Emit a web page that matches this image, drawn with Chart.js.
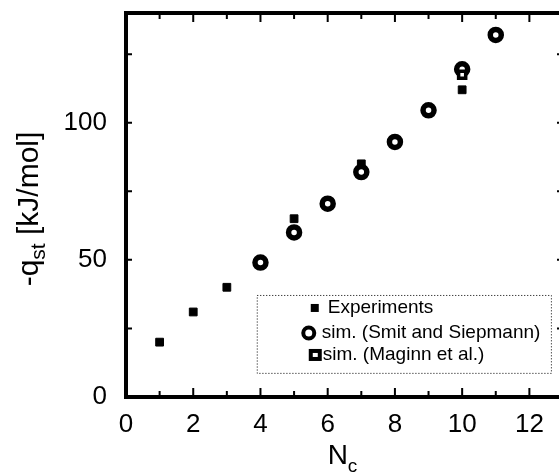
<!DOCTYPE html>
<html>
<head>
<meta charset="utf-8">
<script src="https://cdn.jsdelivr.net/npm/chart.js@4/dist/chart.umd.min.js"></script>
<style>
html, body { margin: 0; padding: 0; background: #fff; overflow: hidden; }
</style>
</head>
<body>
<canvas id="qst" width="575" height="473"></canvas>
<script>
// heat of adsorption vs carbon number
const expN = [1, 2, 3, 5, 7, 10]
const expQ = [20, 31, 40, 65, 85, 112]
const smitN = [4, 5, 6, 7, 8, 9, 10, 11]
const smitQ = [49, 60, 70.5, 82, 93, 104.5, 119.5, 132]
const maginnN = [10]
const maginnQ = [117.5]
const xLabels = [0, 2, 4, 6, 8, 10, 12]
const yLabels = [0, 50, 100]
const legendLabels = ['Experiments', 'sim. (Smit and Siepmann)', 'sim. (Maginn et al.)']

const FONT = '"Liberation Sans", Arial, Helvetica, sans-serif'

function pts(xs, ys) {
    return xs.map((v, i) => ({ x: v, y: ys[i] }))
}

// frame, inward ticks, axis titles and legend box
const frame = {
    id: 'frame',
    afterDraw(chart) {
        const ctx = chart.ctx
        const a = chart.chartArea
        const xs = chart.scales.x
        const ys = chart.scales.y
        ctx.save()
        ctx.strokeStyle = '#000'
        ctx.fillStyle = '#000'

        //box round the plot
        ctx.lineWidth = 4
        ctx.strokeRect(a.left, a.top, a.right - a.left, a.bottom - a.top)

        //ticks pointing inward
        ctx.lineWidth = 2
        xs.ticks.forEach(t => {
            if (t.value <= xs.min || t.value >= xs.max) return
            const px = xs.getPixelForValue(t.value)
            const len = t.value % 2 === 0 ? 9 : 6
            ctx.beginPath()
            ctx.moveTo(px, a.bottom)
            ctx.lineTo(px, a.bottom - len)
            ctx.moveTo(px, a.top)
            ctx.lineTo(px, a.top + len)
            ctx.stroke()
        })
        ys.ticks.forEach(t => {
            if (t.value <= ys.min || t.value >= ys.max) return
            const py = ys.getPixelForValue(t.value)
            ctx.beginPath()
            ctx.moveTo(a.left, py)
            ctx.lineTo(a.left + 6, py)
            ctx.moveTo(a.right, py)
            ctx.lineTo(a.right - 6, py)
            ctx.stroke()
        })

        //x title N_c
        const cx = (a.left + a.right) / 2
        ctx.font = '28px ' + FONT
        ctx.textBaseline = 'alphabetic'
        ctx.textAlign = 'left'
        const wN = ctx.measureText('N').width
        ctx.font = '19px ' + FONT
        const wc = ctx.measureText('c').width
        const x0 = cx - (wN + wc) / 2 - 2
        ctx.font = '28px ' + FONT
        ctx.fillText('N', x0, 464)
        ctx.font = '19px ' + FONT
        ctx.fillText('c', x0 + wN, 472)

        //y title -q_st [kJ/mol]
        ctx.save()
        ctx.translate(38, (a.top + a.bottom) / 2 + 4)
        ctx.rotate(-Math.PI / 2)
        ctx.font = '30px ' + FONT
        const w1 = ctx.measureText('-q').width
        const w3 = ctx.measureText(' [kJ/mol]').width
        ctx.font = '21px ' + FONT
        const w2 = ctx.measureText('st').width
        let tx = -(w1 + w2 + w3) / 2
        ctx.font = '30px ' + FONT
        ctx.fillText('-q', tx, 0)
        ctx.font = '21px ' + FONT
        ctx.fillText('st', tx + w1, 7)
        ctx.font = '30px ' + FONT
        ctx.fillText(' [kJ/mol]', tx + w1 + w2, 0)
        ctx.restore()

        //legend box
        const bl = xs.getPixelForValue(3.89)
        const br = xs.getPixelForValue(12.64)
        const bt = ys.getPixelForValue(37.2)
        const bb = ys.getPixelForValue(8.8)
        ctx.fillStyle = '#fff'
        ctx.fillRect(bl, bt, br - bl, bb - bt)
        ctx.fillStyle = '#000'
        ctx.lineWidth = 1
        ctx.setLineDash([1, 2])
        ctx.strokeRect(bl + 0.5, bt + 0.5, br - bl, bb - bt)
        ctx.setLineDash([])

        ctx.font = '19px ' + FONT
        ctx.textBaseline = 'middle'
        const rows = [bt + 13, bt + 38, bt + 60]
        //experiments marker
        ctx.fillRect(bl + 54, rows[0] - 4, 8, 8)
        ctx.fillText(legendLabels[0], bl + 71, rows[0])
        //circle marker
        ctx.lineWidth = 4
        ctx.beginPath()
        ctx.arc(bl + 52, rows[1], 5.5, 0, Math.PI * 2)
        ctx.stroke()
        ctx.fillText(legendLabels[1], bl + 65, rows[1])
        //square marker
        ctx.fillRect(bl + 52, rows[2] - 6, 13, 12)
        ctx.fillStyle = '#fff'
        ctx.fillRect(bl + 56, rows[2] - 2, 5, 4)
        ctx.fillStyle = '#000'
        ctx.fillText(legendLabels[2], bl + 66, rows[2])
        ctx.restore()
    }
}

new Chart(document.getElementById('qst'), {
    type: 'scatter',
    data: {
        datasets: [{
            label: legendLabels[0],
            data: pts(expN, expQ),
            pointStyle: 'rect',
            pointRadius: 5.5,
            borderWidth: 1,
            backgroundColor: '#000',
            borderColor: '#000'
        }, {
            label: legendLabels[2],
            data: pts(maginnN, maginnQ),
            pointStyle: 'rect',
            pointRadius: 5,
            borderWidth: 3.5,
            backgroundColor: '#fff',
            borderColor: '#000'
        }, {
            label: legendLabels[1],
            data: pts(smitN, smitQ),
            pointStyle: 'circle',
            pointRadius: 5.5,
            borderWidth: 5.5,
            backgroundColor: '#fff',
            borderColor: '#000'
        }]
    },
    options: {
        responsive: false,
        animation: false,
        layout: { padding: { top: 13, right: 12, left: 0, bottom: 0 } },
        plugins: { legend: { display: false }, tooltip: { enabled: false } },
        scales: {
            x: {
                type: 'linear',
                min: 0,
                max: 13,
                border: { display: false },
                grid: { display: false, drawTicks: false },
                afterFit(scale) {
                    scale.height = 76
                    scale.paddingLeft = 0
                    scale.paddingRight = 0
                },
                ticks: {
                    stepSize: 1,
                    autoSkip: false,
                    maxRotation: 0,
                    padding: 12,
                    color: '#000',
                    font: { family: FONT, size: 26 },
                    callback: v => xLabels.includes(v) ? String(v) : ''
                }
            },
            y: {
                min: 0,
                max: 140,
                border: { display: false },
                grid: { display: false, drawTicks: false },
                afterFit(scale) {
                    scale.width = 126
                    scale.paddingTop = 0
                    scale.paddingBottom = 0
                },
                ticks: {
                    stepSize: 25,
                    padding: 19,
                    color: '#000',
                    font: { family: FONT, size: 26 },
                    callback: v => yLabels.includes(v) ? String(v) : ''
                }
            }
        }
    },
    plugins: [frame]
})
</script>
</body>
</html>
